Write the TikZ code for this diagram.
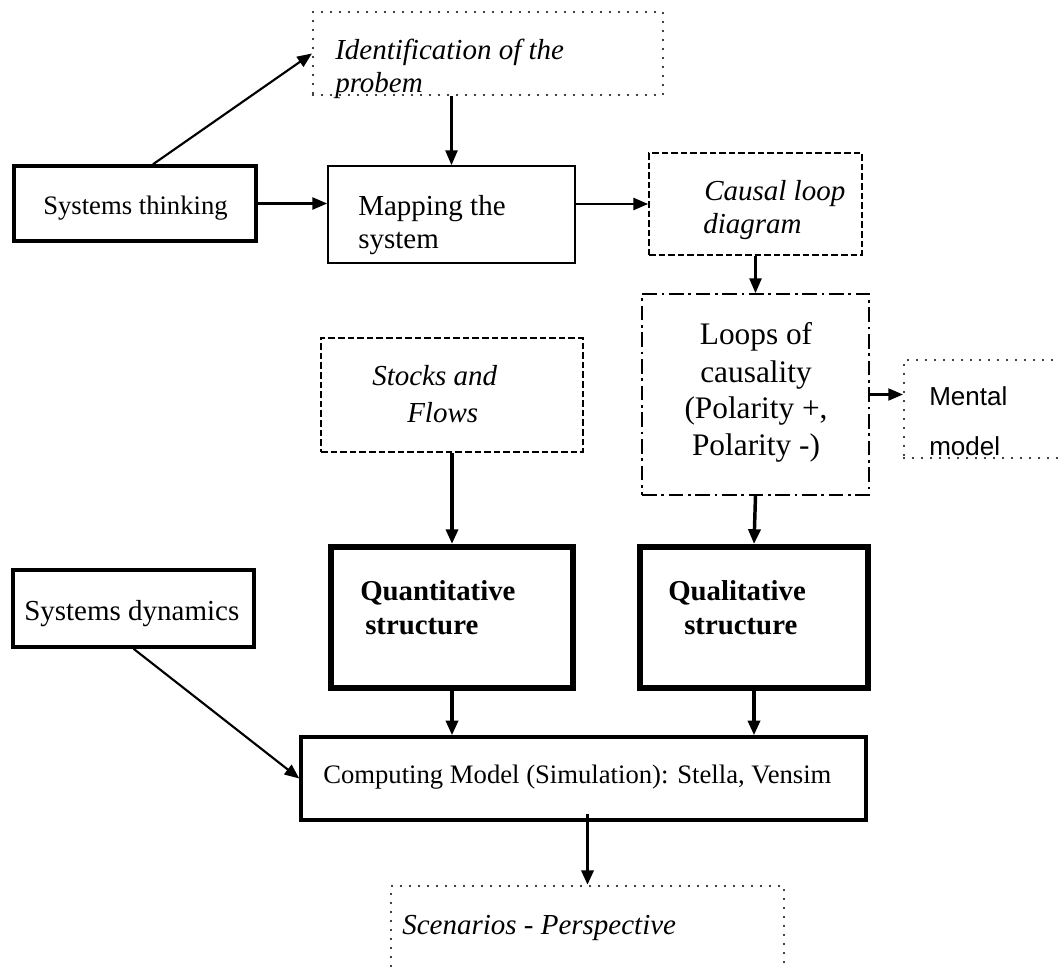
\documentclass[tikz,border=0pt]{standalone}
\usepackage{fontspec}
\setmainfont{Liberation Serif}
\newfontfamily\arialf{Liberation Sans}
\usetikzlibrary{arrows.meta,calc}
\newcommand{\mybox}[6]{\node[#2, minimum width={(#5-#3)*0.75pt}, minimum height={(#6-#4)*0.75pt}] (#1) at ({(#3+#5)/2},{(#4+#6)/2}) {};}
\begin{document}
\begin{tikzpicture}[x=0.75pt,y=-0.75pt,
  box/.style={draw, inner sep=0pt},
  thinbox/.style={box, line width=1.3pt},
  medbox/.style={box, line width=2.6pt},
  heavybox/.style={box, line width=4.6pt},
  dotbox/.style={box, line width=1.6pt, dash pattern=on 0pt off 6.75pt, line cap=round},
  dashbox/.style={box, line width=1.3pt, dash pattern=on 5pt off 2.2pt},
  ddbox/.style={box, line width=1.3pt, dash pattern=on 11pt off 3.5pt on 2pt off 3.5pt},
  arr/.style={-{Triangle[length=11pt,width=9pt]}, line width=1.6pt},
  harr/.style={arr, line width=2.6pt},
  lbl/.style={anchor=base west, inner sep=0pt},
  clbl/.style={anchor=base, inner sep=0pt},
  f29/.style={font=\fontsize{21.75pt}{26pt}\selectfont},
  f29i/.style={font=\fontsize{21.75pt}{26pt}\selectfont\itshape},
  f29b/.style={font=\fontsize{21.6pt}{26pt}\selectfont\bfseries},
  f27/.style={font=\fontsize{20pt}{24pt}\selectfont},
  f31/.style={font=\fontsize{23.5pt}{28pt}\selectfont},
  fsans/.style={font=\fontsize{19.5pt}{24pt}\arialf},
]
\fill[white] (0,0) rectangle (1058,967);
\useasboundingbox (0,0) rectangle (1058,967);

% boxes
\mybox{id}{dotbox}{313}{12}{663}{95}
\mybox{st}{medbox}{14}{166}{256}{241}
\mybox{map}{thinbox}{328}{166}{575}{263}
\mybox{cl}{dashbox}{649}{153}{862}{255}
\mybox{lp}{ddbox}{642}{294}{869}{495}
\mybox{mm}{dotbox}{904}{360}{1100}{458}
\mybox{sf}{dashbox}{321}{338}{583}{452}
\mybox{qn}{heavybox}{331}{547}{573}{688}
\mybox{ql}{heavybox}{640}{547}{868}{688}
\mybox{sd}{medbox}{13}{570}{254}{647}
\mybox{cm}{medbox}{301}{737}{866}{820}
\mybox{sc}{dotbox}{391}{886}{784}{1010}

% texts
\node[lbl,f29i] (id1) at (335,60) {Identification of the};
\node[lbl,f29i] (id2) at (335,92) {probem};
\node[lbl,f27] (st1) at (43,214) {Systems thinking};
\node[lbl,f29] (map1) at (358,215) {Mapping the};
\node[lbl,f29] (map2) at (358,248) {system};
\node[lbl,f29i] (cl1) at (704,200) {Causal loop};
\node[lbl,f29i] (cl2) at (703,233) {diagram};
\node[clbl,f31] (lp1) at (756,344) {Loops of};
\node[clbl,f31] (lp2) at (756,382) {causality};
\node[clbl,f31] (lp3) at (756,418) {(Polarity +,};
\node[clbl,f31] (lp4) at (756,455) {Polarity -)};
\node[lbl,fsans] (mm1) at (929,405) {Mental};
\node[lbl,fsans] (mm2) at (929,455) {model};
\node[lbl,f29i] (sf1) at (372,385) {Stocks and};
\node[lbl,f29i] (sf2) at (407,422) {Flows};
\node[lbl,f29b] (qn1) at (360,600) {Quantitative};
\node[lbl,f29b] (qn2) at (365,634) {structure};
\node[lbl,f29b] (ql1) at (668,600) {Qualitative};
\node[lbl,f29b] (ql2) at (684,634) {structure};
\node[lbl,f29] (sd1) at (24,620) {Systems dynamics};
\node[lbl,f27] (cm1) at (323,783) {Computing Model (Simulation): Stella, Vensim};
\node[lbl,f29i] (sc1) at (402,934) {Scenarios - Perspective};

% connectors
\draw[arr] ([xshift=13.5pt]st.north) -- (id.west);
\draw[arr] (map.north |- id.south) -- (map.north);
\draw[arr] (st.east) -- (st.east -| map.west);
\draw[arr] (map.east |- cl.west) -- (cl.west);
\draw[arr] (cl.south) -- (lp.north);
\draw[arr] (lp.east) -- (lp.east -| mm.west);
\draw[harr] (sf.south) -- (qn.north);
\draw[harr] (lp.south) -- (ql.north);
\draw[harr] (qn.south) -- (qn.south |- cm.north);
\draw[harr] (ql.south) -- (ql.south |- cm.north);
\draw[arr] (sd.south) -- (cm.west);
\coordinate (cmout) at ($(cm.south -| sc.north)+(0,-8)$);
\draw[harr] (cmout) -- (sc.north);
\end{tikzpicture}
\end{document}
